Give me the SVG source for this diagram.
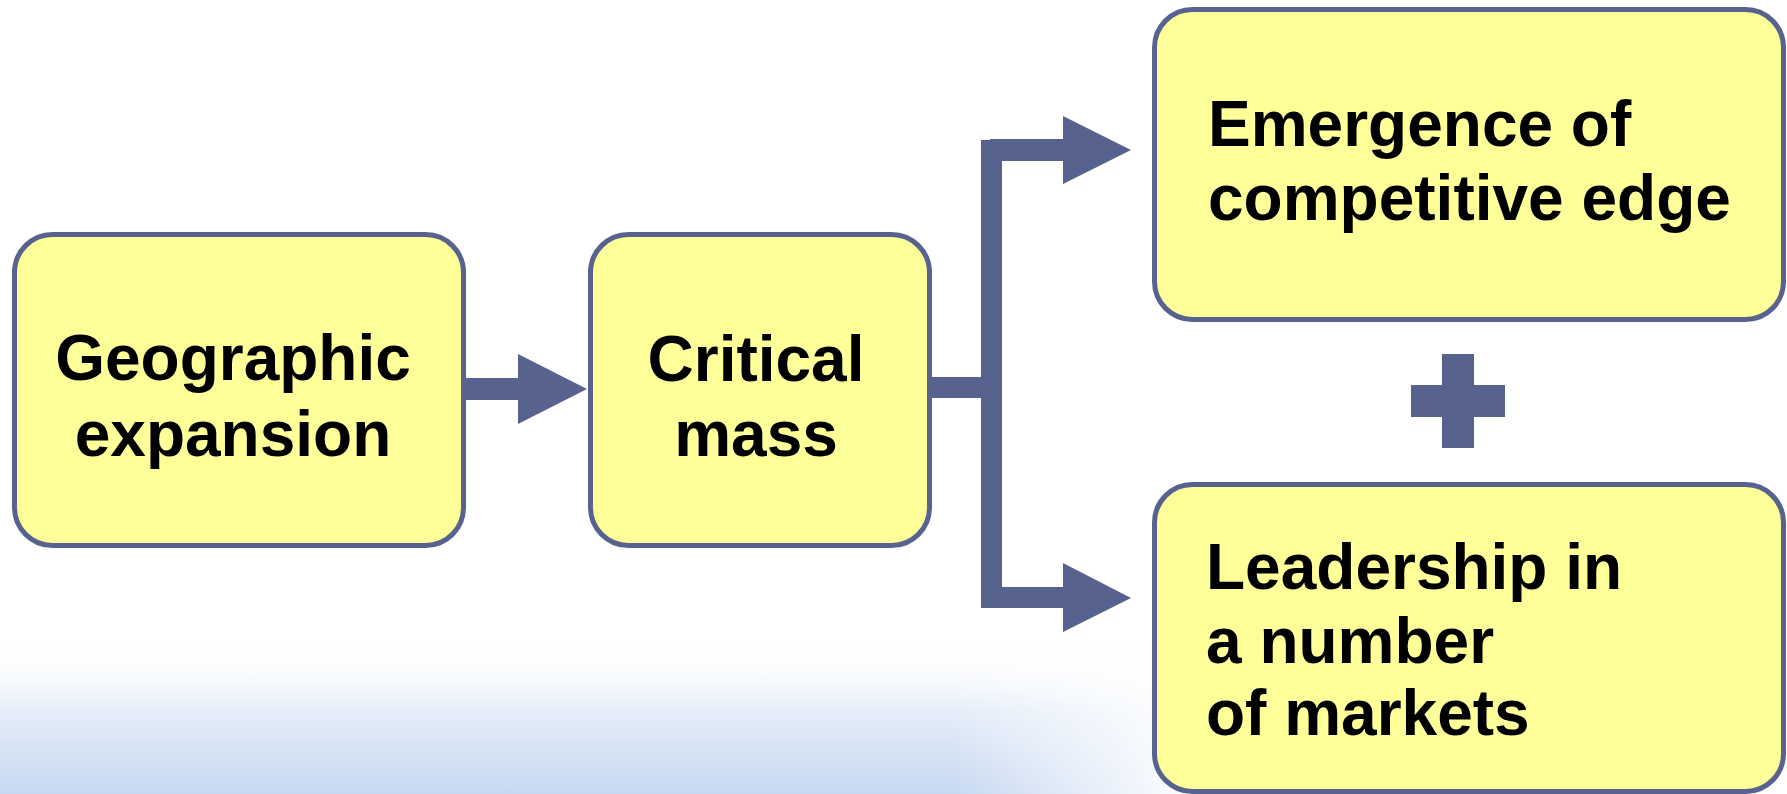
<svg xmlns="http://www.w3.org/2000/svg" width="1787" height="794" viewBox="0 0 1787 794">
<defs>
<style>
.box{fill:#FFFF99;stroke:#58628F;stroke-width:5}
.lbl{font-family:"Liberation Sans",Arial,sans-serif;font-weight:bold;font-size:64px;fill:#000}
.conn{fill:#58628F}
</style>
<linearGradient id="sky" x1="0" y1="0" x2="0" y2="1">
<stop offset="0" stop-color="#ffffff" stop-opacity="0"/>
<stop offset="0.45" stop-color="#e6eef9"/>
<stop offset="1" stop-color="#c6d8f1"/>
</linearGradient>
<linearGradient id="fadeR" x1="0" y1="0" x2="1" y2="0">
<stop offset="0" stop-color="#ffffff" stop-opacity="0"/>
<stop offset="1" stop-color="#ffffff" stop-opacity="1"/>
</linearGradient>
</defs>
<rect width="1787" height="794" fill="#ffffff"/>
<g id="background">
<rect x="0" y="640" width="1787" height="154" fill="url(#sky)"/>
<rect x="950" y="640" width="250" height="154" fill="url(#fadeR)"/>
<rect x="1200" y="640" width="587" height="154" fill="#ffffff"/>
</g>
<g id="connectors">
<rect class="conn" x="464" y="378" width="56" height="22"/>
<polygon class="conn" points="518,354 587,389 518,424"/>
<rect class="conn" x="930" y="377" width="54" height="21"/>
<rect class="conn" x="981" y="140" width="21" height="468"/>
<rect class="conn" x="990" y="139" width="75" height="22"/>
<polygon class="conn" points="1063,116 1131,150 1063,184"/>
<rect class="conn" x="990" y="587" width="75" height="21"/>
<polygon class="conn" points="1063,563 1131,598 1063,632"/>
</g>
<g id="node-geographic">
<rect class="box" x="14.5" y="234.5" width="449" height="311" rx="38"/>
<text class="lbl" text-anchor="middle" x="233" y="380">Geographic</text>
<text class="lbl" text-anchor="middle" x="233" y="456">expansion</text>
</g>
<g id="node-critical">
<rect class="box" x="590.5" y="234.5" width="339" height="311" rx="38"/>
<text class="lbl" text-anchor="middle" x="756" y="381">Critical</text>
<text class="lbl" text-anchor="middle" x="756" y="456">mass</text>
</g>
<g id="node-emergence">
<rect class="box" x="1154.5" y="9.5" width="629" height="310" rx="38"/>
<text class="lbl" x="1208" y="146">Emergence of</text>
<text class="lbl" x="1208" y="220">competitive edge</text>
</g>
<g id="plus">
<rect class="conn" x="1442" y="354" width="32" height="94"/>
<rect class="conn" x="1411" y="385" width="94" height="32"/>
</g>
<g id="node-leadership">
<rect class="box" x="1154.5" y="484.5" width="629" height="307" rx="38"/>
<text class="lbl" x="1206" y="589">Leadership in</text>
<text class="lbl" x="1206" y="663">a number</text>
<text class="lbl" x="1206" y="735">of markets</text>
</g>
</svg>
